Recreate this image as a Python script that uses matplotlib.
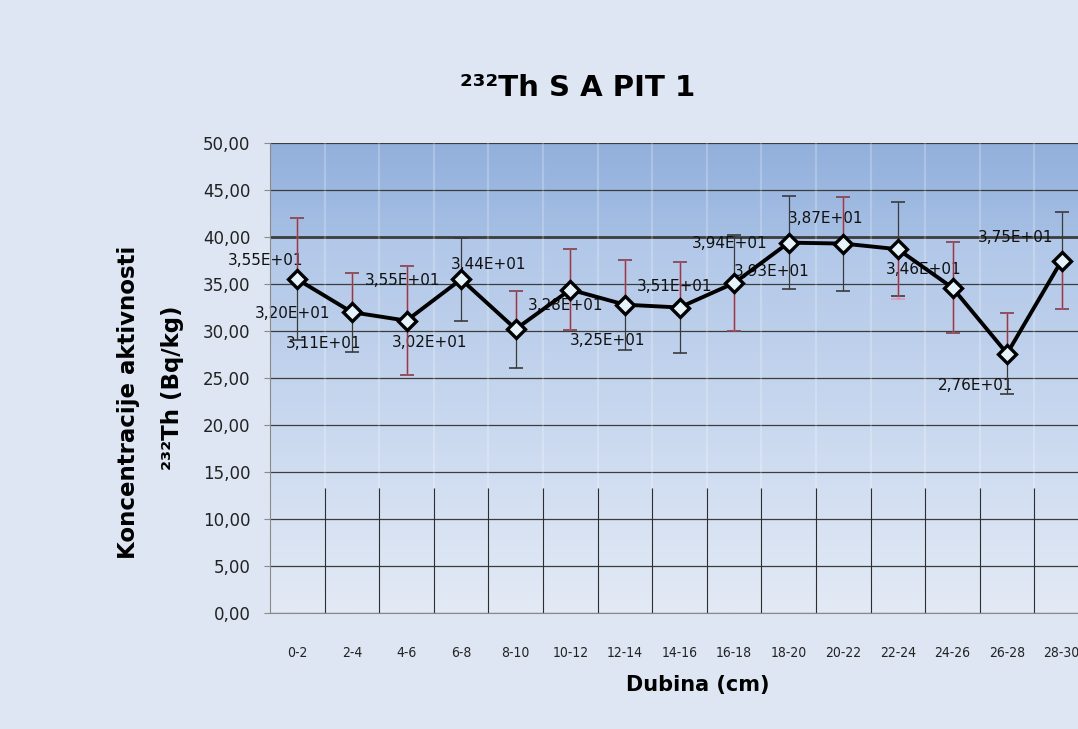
import matplotlib
matplotlib.use("Agg")
import matplotlib.pyplot as plt
import numpy as np
from matplotlib.colors import LinearSegmentedColormap

# --- data ---
depths = ["0-2", "2-4", "4-6", "6-8", "8-10", "10-12", "12-14", "14-16",
          "16-18", "18-20", "20-22", "22-24", "24-26", "26-28", "28-30"]
activity = [35.5, 32.0, 31.1, 35.5, 30.2, 34.4, 32.8, 32.5,
            35.1, 39.4, 39.3, 38.7, 34.6, 27.6, 37.5]
err = [6.5, 4.2, 5.8, 4.4, 4.1, 4.3, 4.8, 4.85,
       5.15, 4.95, 5.0, 5.0, 4.85, 4.35, 5.2]
# second (red) error series, partly hidden behind the black one
red_lo = [0, 0, 5.8, 0, 0, 4.3, 0, 0, 5.15, 0, 0, 5.3, 4.85, 0, 5.2]
red_hi = [6.5, 4.2, 5.8, 0, 4.1, 4.3, 4.8, 4.85, 0, 0, 5.0, 0, 4.85, 4.35, 0]
y_ticks = [0, 5, 10, 15, 20, 25, 30, 35, 40, 45, 50]

# data-label offsets in pixels (dx, dy downwards), as placed in the original
label_off = [(-32, -19), (-59, 1), (-83, 23), (-59, 1), (-86, 13),
             (-82, -25), (-59, 1), (-72, 33), (-60, 3), (-59, 1),
             (-72, 28), (-72, -31), (-29, -18), (-31, 32), (-46, -23)]

W, H = 1078, 729

fig = plt.figure(figsize=(W / 100, H / 100), dpi=100, facecolor="#dde6f2")
ax = fig.add_axes([270 / W, 116 / H, 819 / W, 470 / H])
x = np.arange(len(depths))
ax.set_xlim(-0.5, len(depths) - 0.5)
ax.set_ylim(0, 50)

# gradient plot area
cmap = LinearSegmentedColormap.from_list(
    "bg", [(0.0, "#e3eaf5"), (0.3, "#d0ddf1"), (0.6, "#bccfeb"),
           (0.795, "#b2c8e9"), (0.80, "#a6bfe4"), (1.0, "#92b0dc")])
grad = np.linspace(0, 1, 256).reshape(-1, 1)
ax.imshow(grad, cmap=cmap, origin="lower", aspect="auto",
          extent=[-0.5, len(depths) - 0.5, 0, 50], zorder=0)

# grid
for v in y_ticks:
    lw = 2.0 if v == 40 else 0.9
    ax.axhline(v, color="#3c3c3c", lw=lw, zorder=1)
bounds = x[:-1] + 0.5
ax.vlines(bounds, 13.3, 50, color="white", lw=1.6, alpha=0.22, zorder=1)
ax.vlines(bounds, 0, 13.3, color="#2e2e2e", lw=0.8, zorder=1)

# data labels
for i, v in enumerate(activity):
    txt = f"{v / 10:.2f}E+01".replace(".", ",")
    dx, dy = label_off[i]
    ax.annotate(txt, (i, v), xytext=(dx * 0.72, -dy * 0.72),
                textcoords="offset points", ha="center", va="center",
                fontsize=11, color="#111111", zorder=2.5)

# error bars
ax.errorbar(x, activity, yerr=err, fmt="none", ecolor="#3a3a3a",
            elinewidth=0.9, capsize=5, capthick=1.2, zorder=3)
for i, v in enumerate(activity):
    lo, hi = red_lo[i], red_hi[i]
    if lo == 0 and hi == 0:
        continue
    ax.errorbar([i], [v], yerr=[[lo], [hi]], fmt="none", ecolor="#ff5a78",
                elinewidth=2.0, capsize=5, capthick=1.4, alpha=0.35, zorder=3.2)

# main line
ax.plot(x, activity, color="black", lw=2.8, marker="D", ms=9.5,
        mfc="#e6f3fb", mec="black", mew=2.4, zorder=5)

# axes styling
for s in ["top", "right"]:
    ax.spines[s].set_visible(False)
ax.spines["left"].set_color("#8a8a8a")
ax.spines["bottom"].set_color("#8a8a8a")
ax.set_yticks(y_ticks)
ax.set_yticklabels([f"{v:.2f}".replace(".", ",") for v in y_ticks],
                   fontsize=12, color="#222222")
ax.tick_params(axis="y", length=4, color="#8a8a8a", pad=10)
ax.set_xticks(x)
ax.set_xticklabels(depths, fontsize=10, fontstretch="condensed", color="#222222")
ax.tick_params(axis="x", length=0, pad=24)

# titles
fig.text(578 / W, 1 - 88 / H, "²³²Th S A PIT 1", ha="center", va="center",
         fontsize=21, fontweight="bold")
fig.text(698 / W, 1 - 685 / H, "Dubina (cm)", ha="center", va="center",
         fontsize=15, fontweight="bold")
fig.text(128 / W, 1 - 402 / H, "Koncentracije aktivnosti", ha="center",
         va="center", rotation=90, fontsize=16.5, fontweight="bold")
fig.text(172 / W, 1 - 388 / H, "²³²Th (Bq/kg)", ha="center",
         va="center", rotation=90, fontsize=16.5, fontweight="bold")

fig.savefig("out.png", dpi=100, facecolor=fig.get_facecolor())
